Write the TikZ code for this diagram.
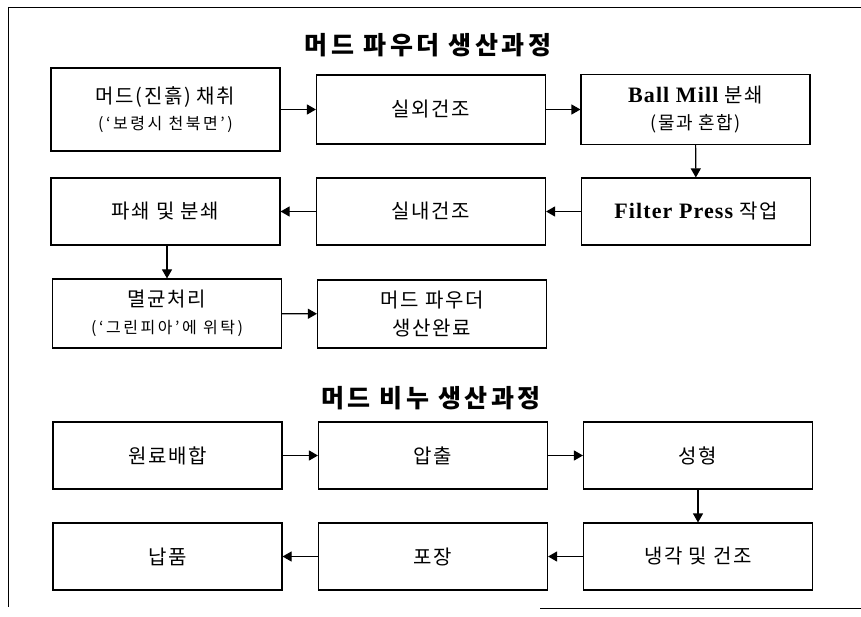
\documentclass[tikz,border=0pt]{standalone}
\usepackage{fontspec}
\setmainfont[LetterSpace=8]{Noto Sans CJK KR}
\newfontfamily\krwide[LetterSpace=16]{Noto Sans CJK KR}
\newfontfamily\krtitle[LetterSpace=14]{Noto Sans CJK KR}
\newfontfamily\latinserif[LetterSpace=5]{Liberation Serif}
\usetikzlibrary{arrows.meta}
\begin{document}
\begin{tikzpicture}[x=1pt,y=-1pt,
  box/.style={draw=black, line width=1.1pt, minimum width=229pt, minimum height=68pt,
    inner sep=0pt, align=center, font=\fontsize{20}{28}\selectfont},
  flow/.style={draw=black, line width=1.1pt, -{Triangle[length=9pt,width=10pt]}},
  ttl/.style={font=\krtitle\fontsize{25}{28}\selectfont\bfseries}]
\newcommand{\subline}[1]{{\krwide\fontsize{16}{18}\selectfont #1}}
\newcommand{\lat}[1]{{\latinserif\fontsize{22}{24}\selectfont\bfseries #1}}
\useasboundingbox (0,0) rectangle (861,617);
% frame
\draw[line width=0.8pt] (8,7) -- (861,7);
\draw[line width=0.8pt] (8,7) -- (8,607);
\draw[line width=0.8pt] (540,608) -- (861,608);
% titles
\node[ttl] (t1) at (428,45) {머드 파우더 생산과정};
\node[ttl] (t2) at (431,398) {머드 비누 생산과정};
% powder process
\node[box, minimum height=83pt] (a) at (165.5,109.5) {머드(진흙) 채취\\[-2pt]\subline{(‘보령시 천북면’)}};
\node[box, minimum height=69pt] (b) at (431,109.5) {실외건조};
\node[box, minimum height=70pt] (c) at (695.5,109.5) {\lat{Ball Mill} 분쇄\\[-1pt]{\fontsize{18}{20}\selectfont(물과 혼합)}};
\node[box, minimum height=67pt] (d) at (696,211.5) {\lat{Filter Press} 작업};
\node[box, minimum height=67pt] (e) at (431,211.5) {실내건조};
\node[box, minimum height=67pt] (f) at (165.5,211.5) {파쇄 및 분쇄};
\node[box, minimum height=69pt] (g) at (167,313.5) {멸균처리\\[-1pt]\subline{(‘그린피아’에 위탁)}};
\node[box, minimum height=68pt] (h) at (432,314) {머드 파우더\\생산완료};
\draw[flow] (a) -- (b);
\draw[flow] (b) -- (c);
\draw[flow] (c) -- (d);
\draw[flow] (d) -- (e);
\draw[flow] (e) -- (f);
\draw[flow] (f.south -| g) -- (g);
\draw[flow] (g) -- (h);
% soap process
\node[box, minimum height=67pt] (p1) at (167.5,455.5) {원료배합};
\node[box, minimum height=67pt] (p2) at (433,455.5) {압출};
\node[box, minimum height=67pt] (p3) at (698,455.5) {성형};
\node[box, minimum height=67pt] (p4) at (698,556.5) {냉각 및 건조};
\node[box, minimum height=67pt] (p5) at (433,556.5) {포장};
\node[box, minimum height=67pt] (p6) at (167.5,556.5) {납품};
\draw[flow] (p1) -- (p2);
\draw[flow] (p2) -- (p3);
\draw[flow] (p3) -- (p4);
\draw[flow] (p4) -- (p5);
\draw[flow] (p5) -- (p6);
\end{tikzpicture}
\end{document}
